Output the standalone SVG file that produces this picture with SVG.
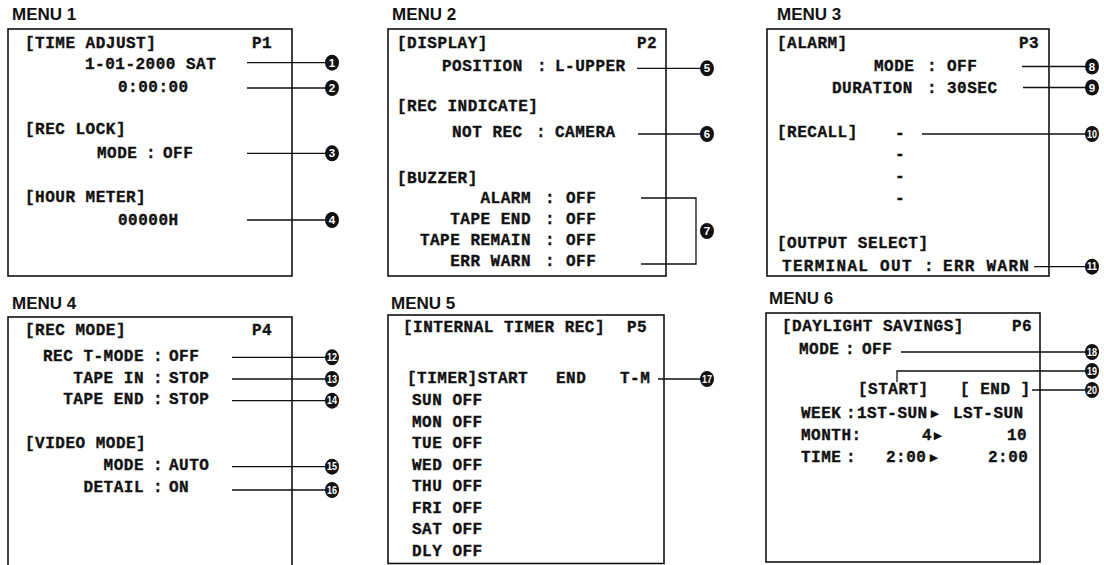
<svg xmlns="http://www.w3.org/2000/svg" width="1104" height="565" viewBox="0 0 1104 565">
<style>
.h{font-family:"Liberation Sans",Arial,sans-serif;font-weight:bold;font-size:17px;fill:#111}
.t{font-family:"Liberation Mono","Courier New","DejaVu Sans Mono",monospace;font-weight:bold;font-size:16px;letter-spacing:0.5px;fill:#111;stroke:#111;stroke-width:0.35}
.w{letter-spacing:1.3px}
.e{text-anchor:end}
.m{text-anchor:middle}
.a{font-family:"DejaVu Sans",sans-serif;font-size:11px;fill:#111;text-anchor:middle}
.box{fill:none;stroke:#111;stroke-width:1.6}
.ln{fill:none;stroke:#111;stroke-width:1.3}
.c{fill:#111}
.n{font-family:"Liberation Sans",Arial,sans-serif;font-weight:bold;font-size:11.5px;fill:#fff;text-anchor:middle}
.n2{font-family:"Liberation Sans",Arial,sans-serif;font-weight:bold;font-size:10px;fill:#fff;text-anchor:middle}
</style>
<rect width="1104" height="565" fill="#fff"/>

<g id="menu1">
<text class="h" x="12" y="20">MENU 1</text>
<rect class="box" x="8" y="29" width="284" height="247"/>
<text class="t" x="25" y="48">[TIME ADJUST]</text>
<text class="t" x="252" y="48">P1</text>
<text class="t" x="85" y="69">1-01-2000 SAT</text>
<text class="t" x="118" y="91.5">0:00:00</text>
<text class="t" x="25" y="134">[REC LOCK]</text>
<text class="t" x="97" y="157.5">MODE</text>
<text class="t m" x="151" y="157.5">:</text>
<text class="t" x="163" y="157.5">OFF</text>
<text class="t" x="25" y="202">[HOUR METER]</text>
<text class="t" x="118" y="224.5">00000H</text>
</g>

<g id="menu2">
<text class="h" x="392" y="20">MENU 2</text>
<rect class="box" x="388" y="29" width="278" height="247"/>
<text class="t" x="397" y="48">[DISPLAY]</text>
<text class="t" x="637" y="48">P2</text>
<text class="t" x="442" y="70.5">POSITION</text>
<text class="t m" x="542" y="70.5">:</text>
<text class="t" x="555" y="70.5">L-UPPER</text>
<text class="t" x="397" y="110.5">[REC INDICATE]</text>
<text class="t" x="452" y="137">NOT REC</text>
<text class="t m" x="541" y="137">:</text>
<text class="t" x="555" y="137">CAMERA</text>
<text class="t" x="397" y="182.5">[BUZZER]</text>
<text class="t e" x="531" y="203">ALARM</text>
<text class="t m" x="550" y="203">:</text>
<text class="t" x="566" y="203">OFF</text>
<text class="t e" x="531" y="224">TAPE END</text>
<text class="t m" x="550" y="224">:</text>
<text class="t" x="566" y="224">OFF</text>
<text class="t e" x="531" y="245">TAPE REMAIN</text>
<text class="t m" x="550" y="245">:</text>
<text class="t" x="566" y="245">OFF</text>
<text class="t e" x="531" y="266">ERR WARN</text>
<text class="t m" x="550" y="266">:</text>
<text class="t" x="566" y="266">OFF</text>
</g>

<g id="menu3">
<text class="h" x="777" y="20">MENU 3</text>
<rect class="box" x="767" y="29" width="282" height="247"/>
<text class="t" x="777" y="48">[ALARM]</text>
<text class="t" x="1019" y="48">P3</text>
<text class="t" x="874" y="70.7">MODE</text>
<text class="t m" x="932" y="70.7">:</text>
<text class="t" x="947" y="70.7">OFF</text>
<text class="t" x="832" y="93">DURATION</text>
<text class="t m" x="932" y="93">:</text>
<text class="t" x="947" y="93">30SEC</text>
<text class="t" x="777" y="137">[RECALL]</text>
<text class="t m" x="900" y="138">-</text>
<text class="t m" x="900" y="158.5">-</text>
<text class="t m" x="900" y="181">-</text>
<text class="t m" x="900" y="203">-</text>
<text class="t" x="777" y="248">[OUTPUT SELECT]</text>
<text class="t w" x="782" y="271">TERMINAL OUT</text>
<text class="t m" x="929" y="271">:</text>
<text class="t w" x="943" y="271">ERR WARN</text>
</g>

<g id="menu4">
<text class="h" x="12" y="309">MENU 4</text>
<rect class="box" x="8" y="317" width="284" height="260"/>
<text class="t" x="25" y="335">[REC MODE]</text>
<text class="t" x="252" y="335">P4</text>
<text class="t e" x="144" y="361">REC T-MODE</text>
<text class="t m" x="158" y="361">:</text>
<text class="t" x="169" y="361">OFF</text>
<text class="t e" x="144" y="382.5">TAPE IN</text>
<text class="t m" x="158" y="382.5">:</text>
<text class="t" x="169" y="382.5">STOP</text>
<text class="t e" x="144" y="404">TAPE END</text>
<text class="t m" x="158" y="404">:</text>
<text class="t" x="169" y="404">STOP</text>
<text class="t" x="25" y="448">[VIDEO MODE]</text>
<text class="t e" x="144" y="470">MODE</text>
<text class="t m" x="158" y="470">:</text>
<text class="t" x="169" y="470">AUTO</text>
<text class="t e" x="144" y="492">DETAIL</text>
<text class="t m" x="158" y="492">:</text>
<text class="t" x="169" y="492">ON</text>
</g>

<g id="menu5">
<text class="h" x="391" y="309">MENU 5</text>
<rect class="box" x="388" y="315" width="276" height="248.5"/>
<text class="t" x="403" y="332">[INTERNAL TIMER REC]</text>
<text class="t" x="627" y="332">P5</text>
<text class="t" x="407" y="383">[TIMER]START</text>
<text class="t" x="556" y="383">END</text>
<text class="t" x="620" y="383">T-M</text>
<text class="t" x="412" y="405">SUN OFF</text>
<text class="t" x="412" y="426.5">MON OFF</text>
<text class="t" x="412" y="448">TUE OFF</text>
<text class="t" x="412" y="469.5">WED OFF</text>
<text class="t" x="412" y="491">THU OFF</text>
<text class="t" x="412" y="512.5">FRI OFF</text>
<text class="t" x="412" y="534">SAT OFF</text>
<text class="t" x="412" y="555.5">DLY OFF</text>
</g>

<g id="menu6">
<text class="h" x="769" y="304">MENU 6</text>
<rect class="box" x="766" y="313" width="274" height="249"/>
<text class="t" x="782" y="331">[DAYLIGHT SAVINGS]</text>
<text class="t" x="1012" y="331">P6</text>
<text class="t" x="799" y="354">MODE</text>
<text class="t m" x="850" y="354">:</text>
<text class="t" x="862" y="354">OFF</text>
<text class="t" x="858" y="394">[START]</text>
<text class="t" x="960" y="394">[ END ]</text>
<text class="t" x="801" y="418">WEEK</text>
<text class="t m" x="851" y="418">:</text>
<text class="t" x="857" y="418">1ST-SUN</text>
<text class="a" x="935" y="417">▶</text>
<text class="t" x="953" y="418">LST-SUN</text>
<text class="t" x="801" y="440">MONTH:</text>
<text class="t" x="922" y="440">4</text>
<text class="a" x="938" y="439">▶</text>
<text class="t" x="1007" y="440">10</text>
<text class="t" x="801" y="462">TIME</text>
<text class="t m" x="851" y="462">:</text>
<text class="t" x="886" y="462">2:00</text>
<text class="a" x="934" y="461">▶</text>
<text class="t" x="988" y="462">2:00</text>
</g>

<g id="connectors">
<path class="ln" d="M247 62.7H326M247 88H326M247 153.3H326M247 220H326"/>
<path class="ln" d="M637 68.3H701M638 134H701M641 198H696V264H641"/>
<path class="ln" d="M1022 66.5H1086M1023 87.5H1086M922 134H1086M1034 266.7H1086"/>
<path class="ln" d="M232 357.3H326M232 379H326M232 400.7H326M232 466.7H326M232 490H326"/>
<path class="ln" d="M658 379H701"/>
<path class="ln" d="M901 352H1086M897 382V371H1086M1032 390H1086"/>
</g>

<g id="callouts">
<ellipse class="c" cx="332" cy="62.7" rx="7" ry="8"/><text class="n" x="332" y="66.8">1</text>
<ellipse class="c" cx="332" cy="88" rx="7" ry="8"/><text class="n" x="332" y="92.1">2</text>
<ellipse class="c" cx="332" cy="153.3" rx="7" ry="8"/><text class="n" x="332" y="157.4">3</text>
<ellipse class="c" cx="332" cy="220" rx="7" ry="8"/><text class="n" x="332" y="224.1">4</text>
<ellipse class="c" cx="707" cy="68.3" rx="7" ry="8"/><text class="n" x="707" y="72.4">5</text>
<ellipse class="c" cx="707" cy="134" rx="7" ry="8"/><text class="n" x="707" y="138.1">6</text>
<ellipse class="c" cx="707" cy="231" rx="7" ry="8"/><text class="n" x="707" y="235.1">7</text>
<ellipse class="c" cx="1092" cy="66.5" rx="7" ry="8"/><text class="n" x="1092" y="70.6">8</text>
<ellipse class="c" cx="1092" cy="87.5" rx="7" ry="8"/><text class="n" x="1092" y="91.6">9</text>
<ellipse class="c" cx="1092" cy="134" rx="7" ry="8"/><text class="n2" x="1092" y="137.6" textLength="10" lengthAdjust="spacingAndGlyphs">10</text>
<ellipse class="c" cx="1092" cy="266.7" rx="7" ry="8"/><text class="n2" x="1092" y="270.3" textLength="10" lengthAdjust="spacingAndGlyphs">11</text>
<ellipse class="c" cx="332" cy="357.3" rx="7" ry="8"/><text class="n2" x="332" y="360.9" textLength="10" lengthAdjust="spacingAndGlyphs">12</text>
<ellipse class="c" cx="332" cy="379" rx="7" ry="8"/><text class="n2" x="332" y="382.6" textLength="10" lengthAdjust="spacingAndGlyphs">13</text>
<ellipse class="c" cx="332" cy="400.7" rx="7" ry="8"/><text class="n2" x="332" y="404.3" textLength="10" lengthAdjust="spacingAndGlyphs">14</text>
<ellipse class="c" cx="332" cy="466.7" rx="7" ry="8"/><text class="n2" x="332" y="470.3" textLength="10" lengthAdjust="spacingAndGlyphs">15</text>
<ellipse class="c" cx="332" cy="490" rx="7" ry="8"/><text class="n2" x="332" y="493.6" textLength="10" lengthAdjust="spacingAndGlyphs">16</text>
<ellipse class="c" cx="707" cy="379" rx="7" ry="8"/><text class="n2" x="707" y="382.6" textLength="10" lengthAdjust="spacingAndGlyphs">17</text>
<ellipse class="c" cx="1092" cy="352" rx="7" ry="8"/><text class="n2" x="1092" y="355.6" textLength="10" lengthAdjust="spacingAndGlyphs">18</text>
<ellipse class="c" cx="1092" cy="371" rx="7" ry="8"/><text class="n2" x="1092" y="374.6" textLength="10" lengthAdjust="spacingAndGlyphs">19</text>
<ellipse class="c" cx="1092" cy="390" rx="7" ry="8"/><text class="n2" x="1092" y="393.6" textLength="10" lengthAdjust="spacingAndGlyphs">20</text>
</g>
</svg>
